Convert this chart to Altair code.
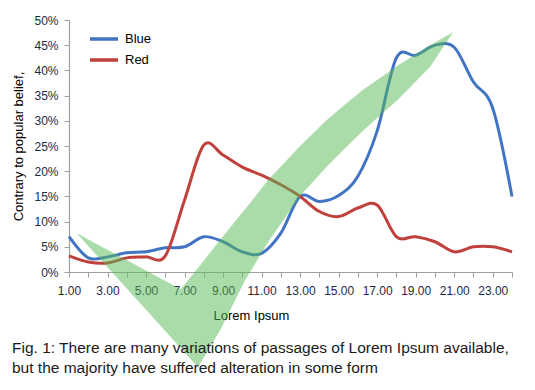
import altair as alt
import pandas as pd

# ---- data ----
x_vals = list(range(1, 25))
blue = [7, 2.8, 3, 3.8, 4, 4.8, 5, 7, 6, 4, 3.7, 7.7, 15, 14, 15.2, 19, 28, 42.5, 43, 45, 44.6, 37.7, 32.5, 15]
red = [3.2, 2, 1.8, 2.8, 3, 3.2, 14.3, 25.2, 23.2, 20.8, 19.2, 17.3, 15, 12, 11, 12.7, 13.3, 7, 7, 6, 4, 5, 5, 4]

# green check-mark band (data units: x category, y percent)
shape_x = [1.4, 6.8, 7.7, 8.85, 10.15, 11.35, 13.0, 14.4, 15.35, 16.25, 17.3, 18.05, 19.75, 20.95]
shape_top = [7.7, -3.4, 0.8, 6.4, 12.5, 18.3, 25.0, 30.2, 33.3, 36.1, 38.9, 40.9, 45.0, 47.6]
shape_bottom = [7.7, -15.1, -18.9, -11.5, -1.6, 6.0, 15.1, 21.0, 24.6, 28.0, 31.6, 34.1, 40.7, 47.6]

y_ticks = [0, 5, 10, 15, 20, 25, 30, 35, 40, 45, 50]
caption = ["Fig. 1: There are many variations of passages of Lorem Ipsum available,",
           "but the majority have suffered alteration in some form"]

series_names = ["Blue", "Red"]
series_colors = ["#4274c4", "#c0403c"]

lines_df = pd.DataFrame({
    "x": x_vals * 2,
    "v": blue + red,
    "series": ["Blue"] * len(blue) + ["Red"] * len(red),
})
shape_df = pd.DataFrame({"x": shape_x, "lo": shape_bottom, "hi": shape_top})

FONT = "Liberation Sans"

x_scale = alt.Scale(domain=[1, 24], nice=False, zero=False)
y_scale = alt.Scale(domain=[0, 50], nice=False)
x_axis = alt.Axis(values=x_vals, labelFlush=False, labelOverlap=False,
                  labelExpr="datum.value % 2 == 1 ? format(datum.value, '.2f') : ''",
                  title="Lorem Ipsum", titleX=182, titleY=37, titleBaseline="top",
                  titleFontSize=13, titleFontWeight="normal", titleFont=FONT,
                  titleColor="#000")
y_axis = alt.Axis(values=y_ticks, labelExpr="datum.value + '%'", labelOverlap=False,
                  labelFlush=False,
                  title="Contrary to popular belief,", titleFontSize=13,
                  titleFontWeight="normal", titleFont=FONT, titleColor="#000",
                  titleX=-47, titleBaseline="alphabetic")

lines = alt.Chart(lines_df).mark_line(interpolate="cardinal", strokeWidth=3).encode(
    x=alt.X("x:Q", scale=x_scale, axis=x_axis),
    y=alt.Y("v:Q", scale=y_scale, axis=y_axis),
    color=alt.Color("series:N",
                    scale=alt.Scale(domain=series_names, range=series_colors),
                    legend=alt.Legend(title=None, orient="none", legendX=26, legendY=10,
                                      symbolType="M-2,0L2,0", symbolSize=196,
                                      symbolStrokeWidth=3.5, labelFontSize=13,
                                      labelFont=FONT, labelColor="#000",
                                      labelOffset=12, rowPadding=5)),
)

band = alt.Chart(shape_df).mark_area(color="#55b955", opacity=0.5, interpolate="linear").encode(
    x=alt.X("x:Q", scale=x_scale, axis=x_axis),
    y=alt.Y("lo:Q", scale=y_scale, axis=y_axis),
    y2="hi:Q",
)

chart = alt.layer(lines, band).properties(
    width=443, height=252,
    autosize=alt.AutoSizeParams(type="none"),
    padding={"left": 61, "top": 12, "right": 14, "bottom": 108},
    title=alt.Title(caption, orient="bottom", anchor="start", frame="group",
                    fontSize=15.5, font=FONT, fontWeight="normal", color="#1a1a1a",
                    lineHeight=20, dx=-57, offset=0, dy=-26),
).configure_view(stroke=None).configure_axis(
    grid=False, domainColor="#a0a0a0", tickColor="#a0a0a0", tickSize=5,
    labelFont=FONT, labelFontSize=12, labelColor="#1e2a44", labelPadding=6,
    domainWidth=1.2,
).configure_axisX(labelPadding=8)

chart.save("out.html", embed_options={"renderer": "svg", "actions": False})
